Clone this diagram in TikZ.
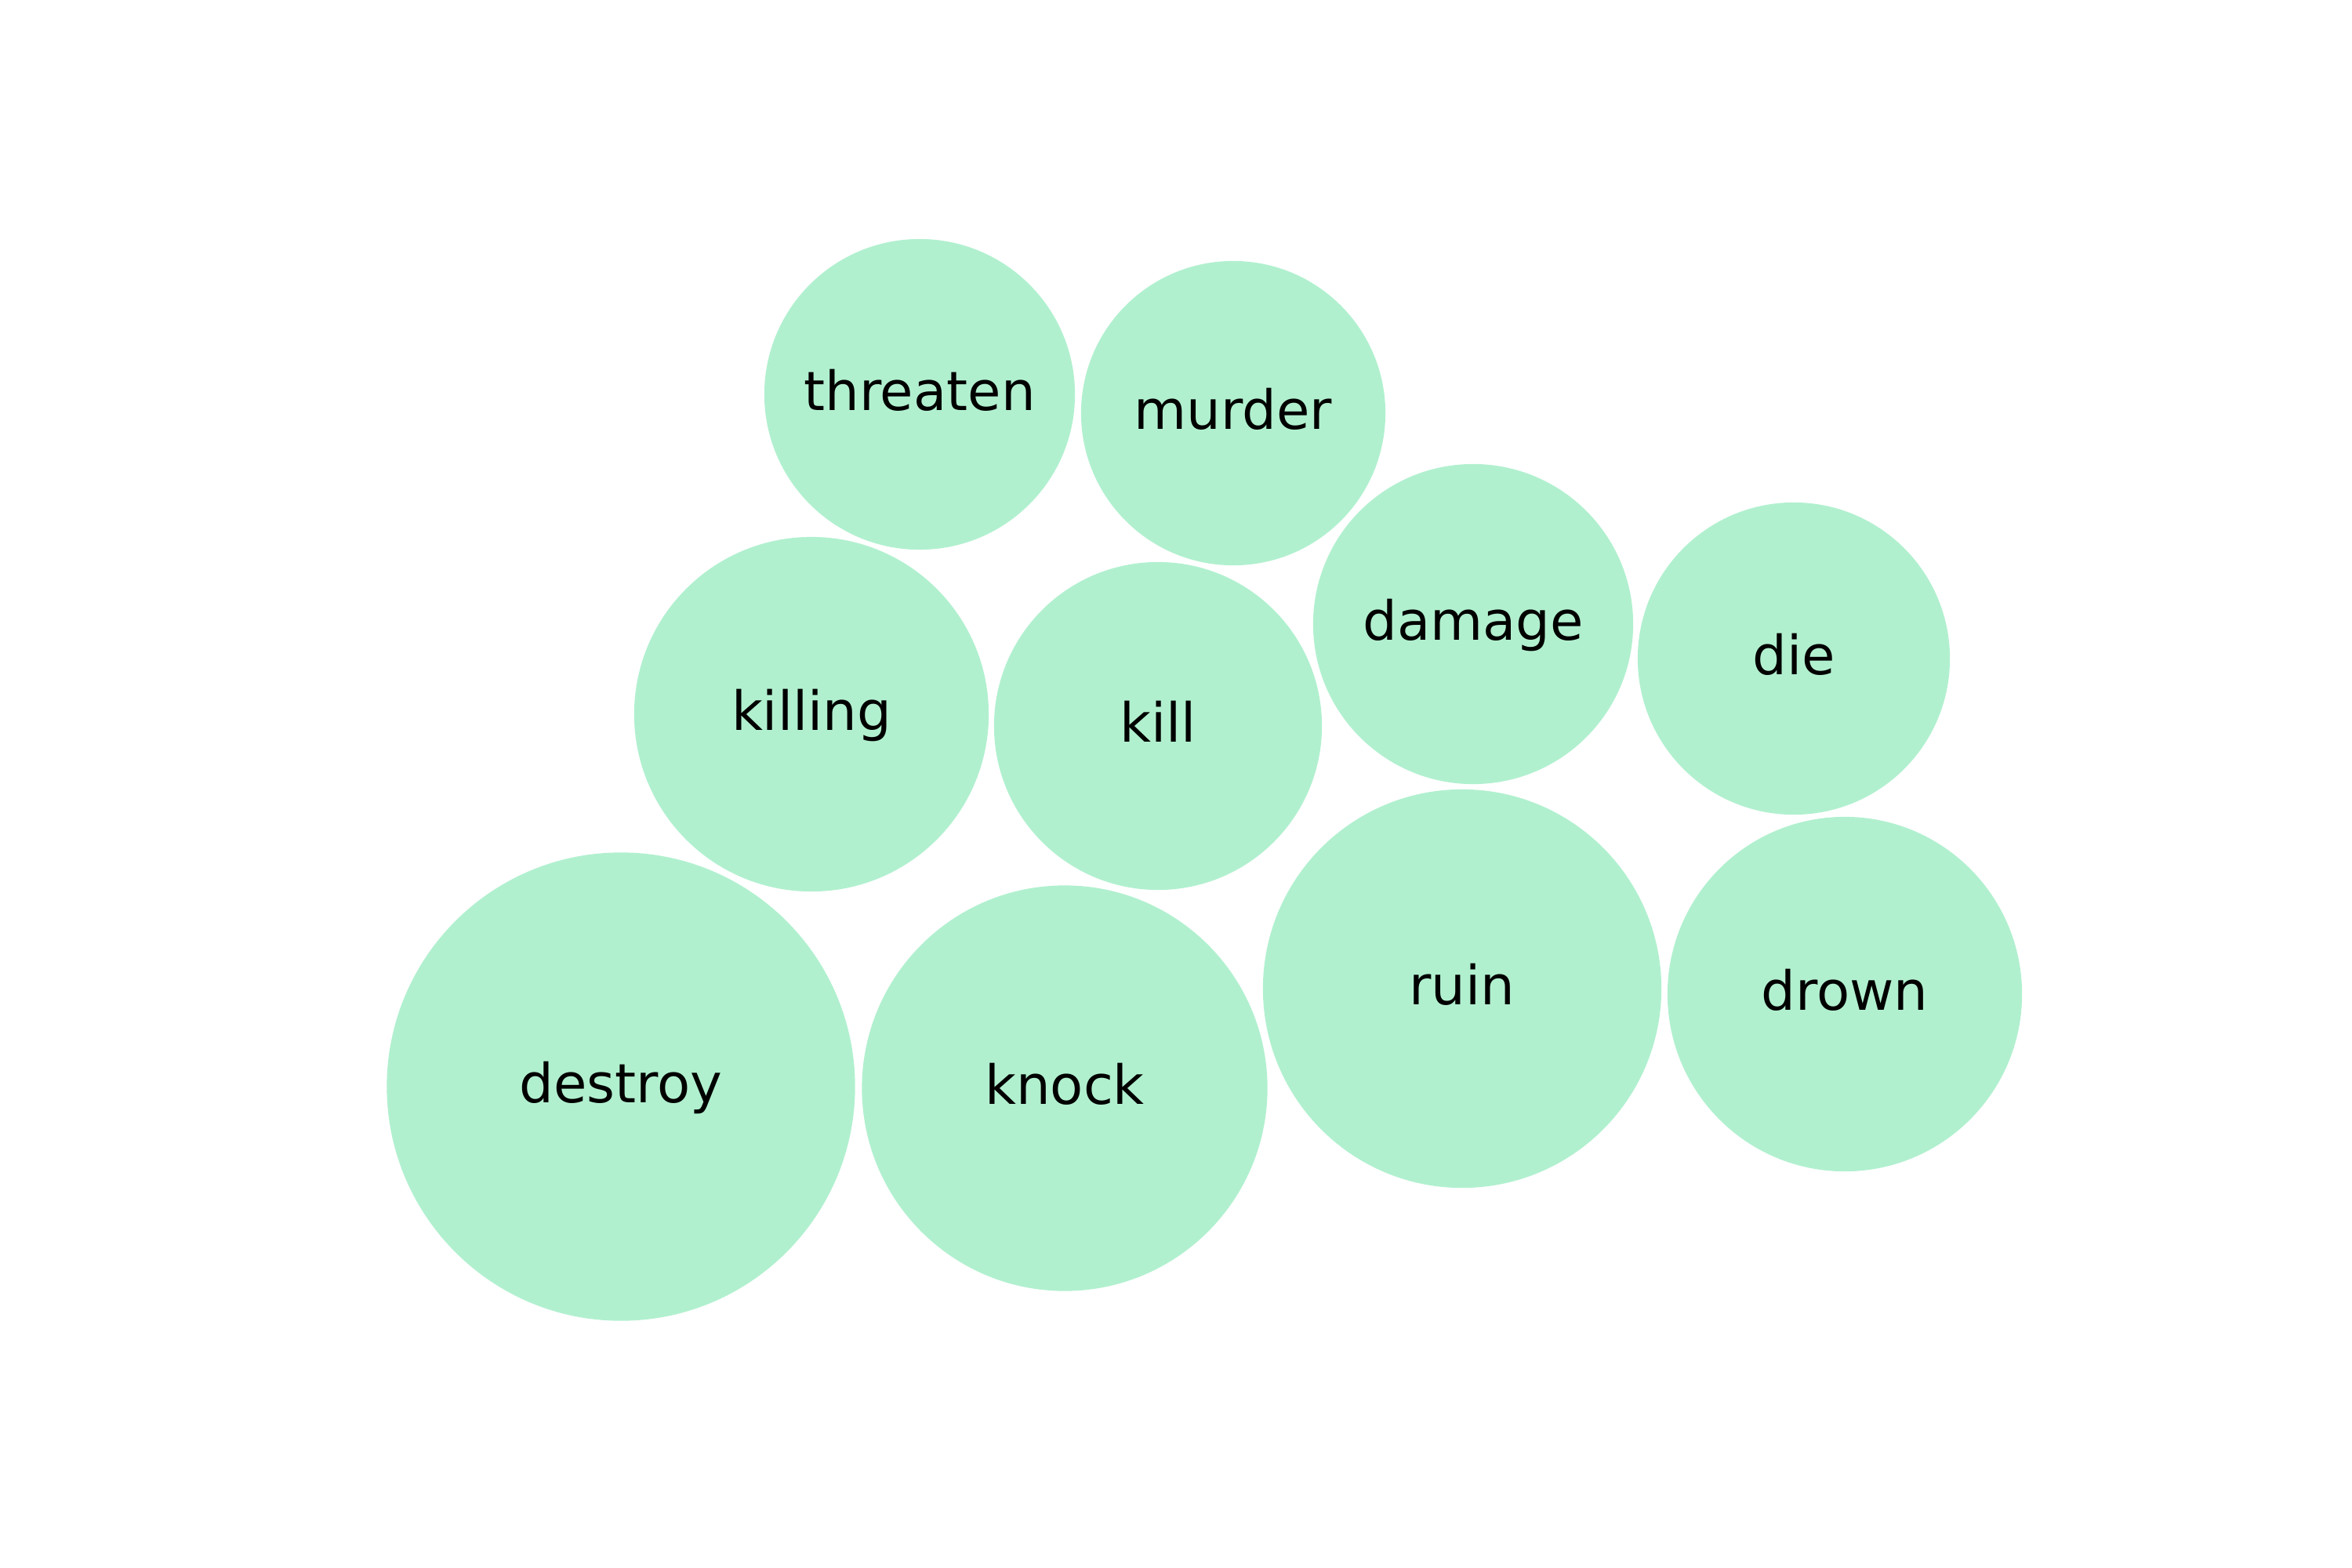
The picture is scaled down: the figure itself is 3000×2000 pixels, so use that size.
\documentclass[tikz,border=0pt]{standalone}
\usepackage{fontspec}
\setmainfont{DejaVu Sans}
\definecolor{bubblefill}{RGB}{177,240,207}
\begin{document}
\begin{tikzpicture}[x=0.01cm,y=-0.01cm,
  bubble/.style={circle, fill=bubblefill, draw=none, inner sep=0pt,
    font=\fontsize{19.6}{24}\selectfont, text=black,
    text height=15.7pt, text depth=3.9pt}]
\useasboundingbox (0,0) rectangle (3000,2000);
\node[bubble, minimum size=3.96cm] (threaten) at (1173,503) {threaten};
\node[bubble, minimum size=3.88cm] (murder) at (1573,527) {murder};
\node[bubble, minimum size=4.08cm] (damage) at (1879,796) {damage};
\node[bubble, minimum size=3.98cm] (die) at (2288,840) {die};
\node[bubble, minimum size=4.52cm] (killing) at (1035,911) {killing};
\node[bubble, minimum size=4.18cm] (kill) at (1477,926) {kill};
\node[bubble, minimum size=5.97cm] (destroy) at (792,1386) {destroy};
\node[bubble, minimum size=5.17cm] (knock) at (1358,1388) {knock};
\node[bubble, minimum size=5.08cm] (ruin) at (1865,1261) {ruin};
\node[bubble, minimum size=4.52cm] (drown) at (2353,1268) {drown};
\end{tikzpicture}
\end{document}
